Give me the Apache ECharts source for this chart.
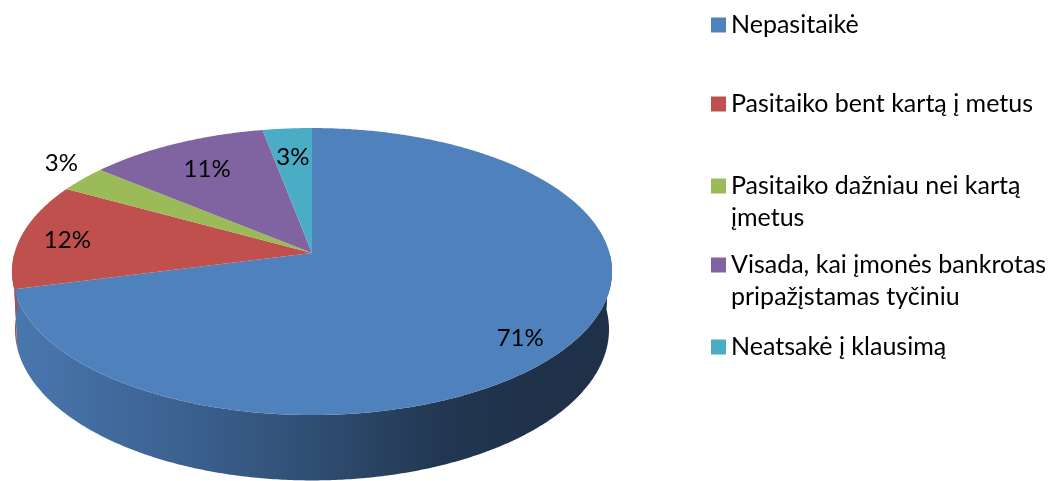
<!DOCTYPE html>
<html><head><meta charset="utf-8">
<script src="https://cdn.jsdelivr.net/npm/echarts@6/dist/echarts.min.js"></script>
<style>html,body{margin:0;padding:0;background:#fff}#c{width:1056px;height:481px}</style>
</head><body><div id="c"></div>
<script>
// ---- data ----
const categories = ['Nepasitaikė', 'Pasitaiko bent kartą į metus', 'Pasitaiko dažniau nei kartą įmetus', 'Visada, kai įmonės bankrotas pripažįstamas tyčiniu', 'Neatsakė į klausimą'];
const legendLines = [['Nepasitaikė'], ['Pasitaiko bent kartą į metus'], ['Pasitaiko dažniau nei kartą', 'įmetus'], ['Visada, kai įmonės bankrotas', 'pripažįstamas tyčiniu'], ['Neatsakė į klausimą']];
const values = [71, 12, 3, 11, 3];

// ---- style / layout ----
const colors = ['#4f81bd', '#c0504d', '#9bbb59', '#8064a2', '#4bacc6'];
const FONT = 'Lato, "Liberation Sans", sans-serif';
const CX = 312, CY = 253, A = 297.5, B = 141.1, K = 0.129, H = 57, S = 0.99;
const labelR = [0.85, 0.84, 1.1, 0.75, 0.75];
const labelDx = [-6, 0, 0, 0, 0];
const labelDy = [6, 2, -9, 0, 0];
const legendY = [25, 104, 186, 265, 347];

const total = values.reduce((a, b) => a + b, 0);
const starts = [];
values.reduce((acc, v, i) => { starts[i] = acc; return acc + v; }, 0);

function proj(alpha, r) {
  const u = r * Math.sin(alpha), v = -r * Math.cos(alpha);
  const d = 1 - K * v;
  return [CX + A * u / d, CY + B * v / d];
}
function projB(alpha) {
  const p = proj(alpha, 1);
  const v = -Math.cos(alpha);
  const d = 1 - K * v;
  return [CX + (p[0] - CX) * S, p[1] + H / d];
}
function shade(hex, f) {
  const n = parseInt(hex.slice(1), 16);
  const r = Math.round(((n >> 16) & 255) * f), g = Math.round(((n >> 8) & 255) * f), b = Math.round((n & 255) * f);
  return 'rgb(' + r + ',' + g + ',' + b + ')';
}
function sideGradient(hex) {
  const x0 = CX - A - 5, x1 = CX + A + 5;
  const stops = [[10, 0.93], [200, 0.74], [320, 0.6], [440, 0.43], [520, 0.39], [612, 0.38]];
  return {
    type: 'linear', global: true, x: x0, y: 0, x2: x1, y2: 0,
    colorStops: stops.map(s => ({ offset: Math.max(0, Math.min(1, (s[0] - x0) / (x1 - x0))), color: shade(hex, s[1]) }))
  };
}

function makeRender(i) {
  return function (params, api) {
    const a0 = starts[i] / total * Math.PI * 2;
    const a1 = (starts[i] + api.value(0)) / total * Math.PI * 2;
    const children = [];
    const step = Math.PI / 360;
    // side wall (front half only)
    const s0 = Math.max(a0, Math.PI / 2), s1 = Math.min(a1, Math.PI * 1.5);
    if (s1 > s0) {
      const top = [], bot = [];
      for (let a = s0; a < s1; a += step) { top.push(proj(a, 1)); bot.push(projB(a)); }
      top.push(proj(s1, 1)); bot.push(projB(s1));
      children.push({ type: 'polygon', z2: 1, shape: { points: top.concat(bot.reverse()) }, style: { fill: sideGradient(colors[i]) } });
    }
    // top face
    const pts = [[CX, CY]];
    for (let a = a0; a < a1; a += step) pts.push(proj(a, 1));
    pts.push(proj(a1, 1));
    children.push({ type: 'polygon', z2: 5, shape: { points: pts }, style: { fill: colors[i] } });
    // label
    const mid = (a0 + a1) / 2;
    const lp = proj(mid, labelR[i]);
    children.push({
      type: 'text', z2: 10,
      style: { text: Math.round(api.value(0) / total * 100) + '%', x: lp[0] + labelDx[i], y: lp[1] + labelDy[i], fill: '#000', font: '24px ' + FONT, align: 'center', verticalAlign: 'middle' }
    });
    return { type: 'group', children: children };
  };
}

const series = categories.map((name, i) => ({
  type: 'custom', name: name, coordinateSystem: 'none', silent: true, animation: false,
  z: i < 2 ? 2 : 3,
  itemStyle: { color: colors[i] },
  data: [values[i]],
  renderItem: makeRender(i)
}));

const legends = categories.map((name, i) => {
  const lines = legendLines[i];
  const two = lines.length > 1;
  return {
    data: [name], orient: 'vertical', left: 711, top: legendY[i] - (two ? 48 : 16), padding: 0,
    icon: 'rect', itemWidth: 15, itemHeight: 15, selectedMode: false,
    formatter: () => two ? '\n' + lines.join('\n') : lines[0],
    textStyle: { color: '#000', fontSize: 25, fontFamily: FONT, lineHeight: 32 }
  };
});

const chart = echarts.init(document.getElementById('c'), null, { renderer: 'canvas' });
chart.setOption({ backgroundColor: '#fff', animation: false, legend: legends, series: series });
</script></body></html>
